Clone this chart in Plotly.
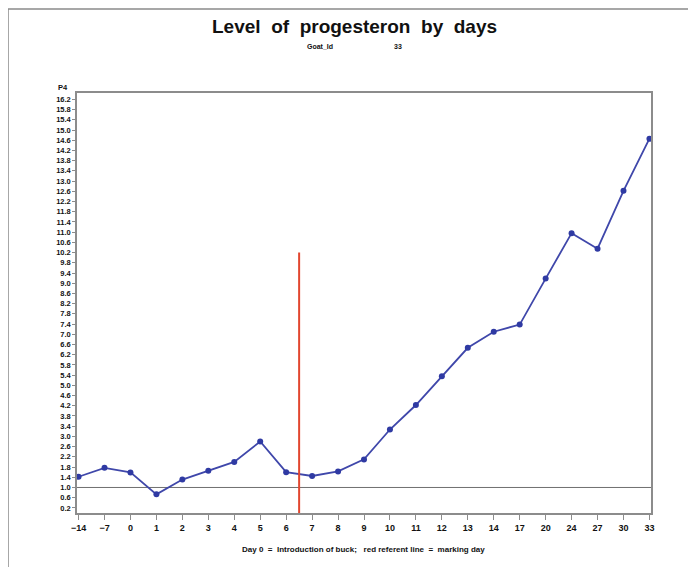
import plotly.graph_objects as go

days = ["\u221214", "\u22127", "0", "1", "2", "3", "4", "5", "6", "7", "8", "9",
        "10", "11", "12", "13", "14", "17", "20", "24", "27", "30", "33"]
p4 = [1.42, 1.77, 1.59, 0.73, 1.31, 1.65, 2.0, 2.80, 1.60, 1.45, 1.63, 2.10,
      3.27, 4.23, 5.36, 6.47, 7.10, 7.38, 9.18, 10.96, 10.35, 12.62, 14.66]
y_ticks = [round(0.2 + 0.4 * i, 1) for i in range(41)]
marking_pos = 8.5      # between day 6 and day 7
marking_top = 10.2
ref_level = 1.0

x_idx = list(range(len(days)))

# page has an 8px body margin; work in page pixels and offset
OFF = 8
W, H = 696 - OFF, 567 - OFF
L, R, T, B = 77, 651, 93, 513   # page pixel positions of plot area
pw, ph = R - L, B - T


def px(x):
    return (x - L) / pw


def py(y):
    return (B - y) / ph


FONT = "Liberation Sans"

fig = go.Figure()
fig.add_trace(go.Scatter(
    x=x_idx, y=p4, mode="lines+markers",
    line=dict(color="#3f47aa", width=1.8),
    marker=dict(symbol="circle", size=6, color="#2f3aa3"),
    showlegend=False, hoverinfo="skip"))

# red marking line
fig.add_trace(go.Scatter(
    x=[marking_pos, marking_pos], y=[0, marking_top], mode="lines",
    line=dict(color="#e2462e", width=2), showlegend=False, hoverinfo="skip"))

shapes = [
    dict(type="line", xref="paper", yref="y", x0=0, x1=1, y0=ref_level, y1=ref_level,
         line=dict(color="#707070", width=1), layer="below"),
    # outer border (left and top)
    dict(type="line", xref="paper", yref="paper", x0=px(8), x1=px(8), y0=py(9), y1=py(570),
         line=dict(color="#8a8a8a", width=1.5)),
    dict(type="line", xref="paper", yref="paper", x0=px(8), x1=px(700), y0=py(9), y1=py(9),
         line=dict(color="#8a8a8a", width=1.5)),
]

annotations = [
    dict(text="<b>Level  of  progesteron  by  days</b>", xref="paper", yref="paper",
         x=px(354), y=py(27), showarrow=False, xanchor="center", yanchor="middle",
         font=dict(family=FONT, size=19, color="#111")),
    dict(text="<b>Goat_Id</b>", xref="paper", yref="paper", x=px(320), y=py(47),
         showarrow=False, xanchor="center", yanchor="middle",
         font=dict(family=FONT, size=7, color="#111")),
    dict(text="<b>33</b>", xref="paper", yref="paper", x=px(398), y=py(47),
         showarrow=False, xanchor="center", yanchor="middle",
         font=dict(family=FONT, size=7, color="#111")),
    dict(text="<b>P4</b>", xref="paper", yref="paper", x=px(63), y=py(87),
         showarrow=False, xanchor="center", yanchor="middle",
         font=dict(family=FONT, size=7.5, color="#111")),
    dict(text="<b>Day 0  =  Introduction of buck;   red referent line  =  marking day</b>",
         xref="paper", yref="paper", x=px(363), y=py(549),
         showarrow=False, xanchor="center", yanchor="middle",
         font=dict(family=FONT, size=8, color="#111")),
]

fig.update_layout(
    width=W, height=H,
    margin=dict(l=L - OFF, r=696 - R, t=T - OFF, b=567 - B, pad=0),
    paper_bgcolor="white", plot_bgcolor="white",
    shapes=shapes, annotations=annotations,
    xaxis=dict(range=[-0.06, 22.06], tickmode="array", tickvals=x_idx, ticktext=days,
               showgrid=False, zeroline=False, showline=True, mirror=True,
               linecolor="#8c8c8c", linewidth=1.5, ticks="outside", ticklen=5,
               tickcolor="#8c8c8c", tickfont=dict(family=FONT, size=9, color="#111", weight="bold")),
    yaxis=dict(range=[0.0, 16.45], tickmode="array", tickvals=y_ticks,
               ticktext=[f"{v:.1f}" for v in y_ticks],
               showgrid=False, zeroline=False, showline=True, mirror=True,
               linecolor="#8c8c8c", linewidth=1.5, ticks="outside", ticklen=3,
               tickcolor="#8c8c8c", tickfont=dict(family=FONT, size=7.5, color="#111", weight="bold")),
)

fig.write_html("out.html")
